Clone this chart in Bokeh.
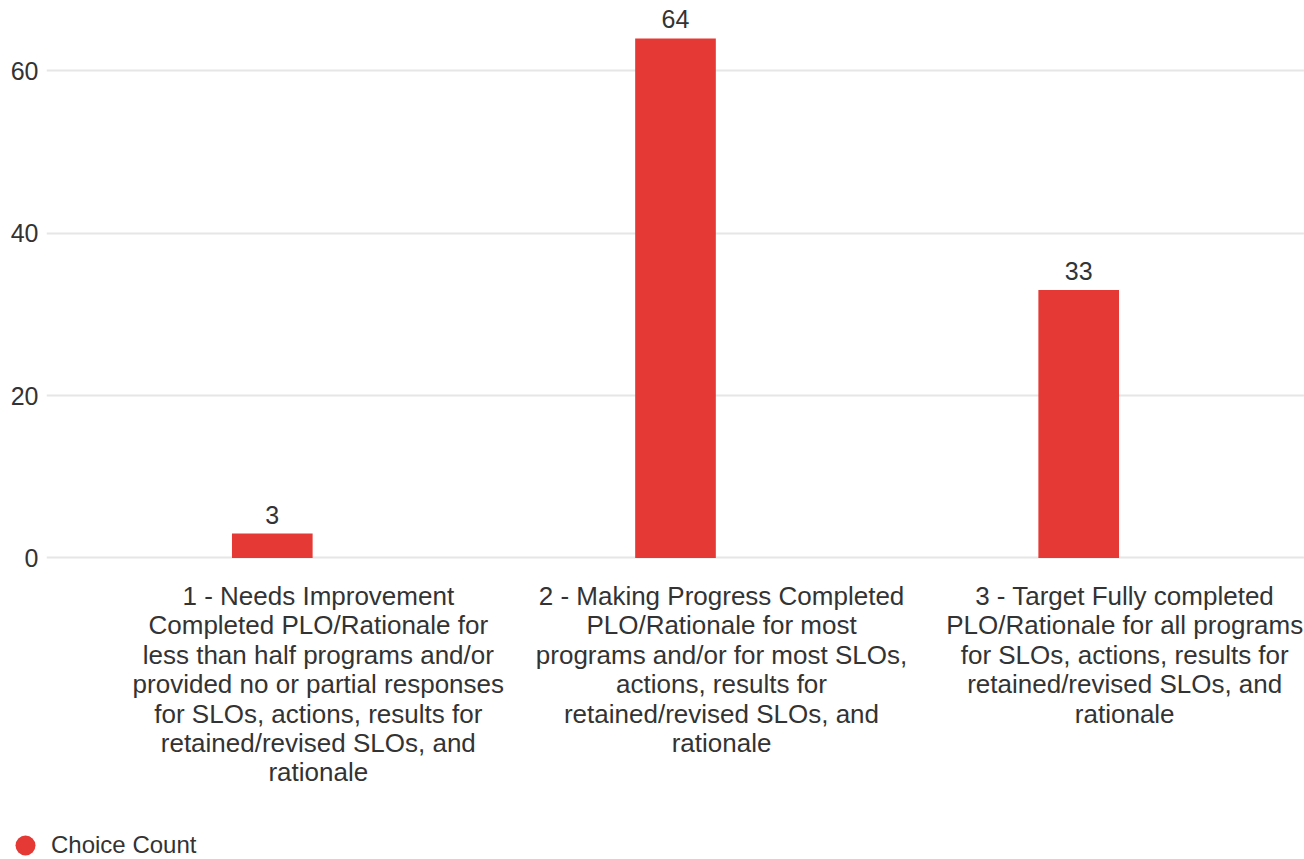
from bokeh.plotting import figure
from bokeh.layouts import column
from bokeh.models import ColumnDataSource, FactorRange, Range1d, LabelSet, Legend, LegendItem, FixedTicker
from bokeh.core.properties import value
from bokeh.embed import file_html
from bokeh.resources import INLINE

categories = [
    "1 - Needs Improvement\nCompleted PLO/Rationale for\nless than half programs and/or\nprovided no or partial responses\nfor SLOs, actions, results for\nretained/revised SLOs, and\nrationale",
    "2 - Making Progress Completed\nPLO/Rationale for most\nprograms and/or for most SLOs,\nactions, results for\nretained/revised SLOs, and\nrationale",
    "3 - Target Fully completed\nPLO/Rationale for all programs\nfor SLOs, actions, results for\nretained/revised SLOs, and\nrationale",
]
counts = [3, 64, 33]
y_ticks = [0, 20, 40, 60]
series_name = "Choice Count"

FONT = "Liberation Sans"
TEXT = "#333333"
RED = "#e53935"

FRAME_H = 559
P_BOTTOM = 16
BOTTOM_H = 859 - FRAME_H - P_BOTTOM
LINE_H = 29.4
FIRST_LINE = 595.5 - FRAME_H - P_BOTTOM
LEFT = 46
PAD = 0.06  # category padding on each side of the factor range

src = ColumnDataSource(dict(cat=categories, count=counts, label=[str(c) for c in counts]))
xr = FactorRange(factors=categories, range_padding=2 * PAD / len(categories),
                 range_padding_units="percent")

# ---------- main chart ----------
p = figure(
    x_range=xr, y_range=Range1d(-0.2, 68.67),
    frame_width=1304 - LEFT, frame_height=FRAME_H,
    output_backend="svg", toolbar_location=None,
    min_border_left=LEFT, min_border_right=0, min_border_top=0, min_border_bottom=P_BOTTOM,
)
p.outline_line_color = None
p.background_fill_color = "white"
p.border_fill_color = "white"

p.vbar(x="cat", top="count", width=0.2, source=src, fill_color=RED, line_color=None)

labels = LabelSet(x="cat", y="count", text="label", source=src, text_align="center",
                  text_baseline="bottom", y_offset=10, text_font=value(FONT), text_font_size="25px",
                  text_color=TEXT)
p.add_layout(labels)

p.yaxis.ticker = FixedTicker(ticks=y_ticks)
p.yaxis.axis_line_color = None
p.yaxis.major_tick_line_color = None
p.yaxis.major_tick_out = 0
p.yaxis.major_tick_in = 0
p.yaxis.minor_tick_line_color = None
p.yaxis.major_label_text_font = FONT
p.yaxis.major_label_text_font_size = "25px"
p.yaxis.major_label_text_color = TEXT
p.yaxis.major_label_standoff = 8
p.xaxis.visible = False

p.xgrid.grid_line_color = None
p.ygrid.grid_line_color = "#e6e6e6"
p.ygrid.grid_line_width = 2
p.ygrid.ticker = FixedTicker(ticks=y_ticks)

# ---------- category labels + legend strip (frame spans the full width) ----------
n = len(categories)
units_per_px = (n + 2 * PAD) / (1304 - LEFT)
x_start = -PAD - LEFT * units_per_px
x_end = n + PAD

lx, ly, lt = [], [], []
for idx, c in enumerate(categories):
    for i, line in enumerate(c.split("\n")):
        lx.append(idx + 0.5)
        ly.append(FIRST_LINE + i * LINE_H)
        lt.append(line)
cat_src = ColumnDataSource(dict(x=lx, y=ly, text=lt))

p2 = figure(
    x_range=Range1d(x_start, x_end), y_range=Range1d(BOTTOM_H, 0),
    frame_width=1304, frame_height=BOTTOM_H,
    output_backend="svg", toolbar_location=None,
    x_axis_location=None, y_axis_location=None,
    min_border_left=0, min_border_right=0, min_border_top=0, min_border_bottom=0,
)
p2.outline_line_color = None
p2.grid.visible = False
p2.border_fill_color = "white"

p2.text(x="x", y="y", text="text", source=cat_src, text_align="center",
        text_baseline="middle", text_font=value(FONT), text_font_size="26px",
        text_color=TEXT)

# legend-only marker, placed outside the visible y-range of the strip
dummy = p2.scatter(x=[0.5], y=[-10 * BOTTOM_H], size=20, marker="circle",
                   fill_color=RED, line_color=None)
legend = Legend(items=[LegendItem(label=series_name, renderers=[dummy])],
                location=(0, -11), orientation="horizontal",
                glyph_width=50, glyph_height=50, label_standoff=1,
                padding=0, margin=0, border_line_color=None, background_fill_alpha=0,
                label_text_font=FONT, label_text_font_size="24px", label_text_color=TEXT)
p2.add_layout(legend)

layout = column(p, p2, spacing=0)
open("out.html", "w").write(file_html(layout, INLINE))
